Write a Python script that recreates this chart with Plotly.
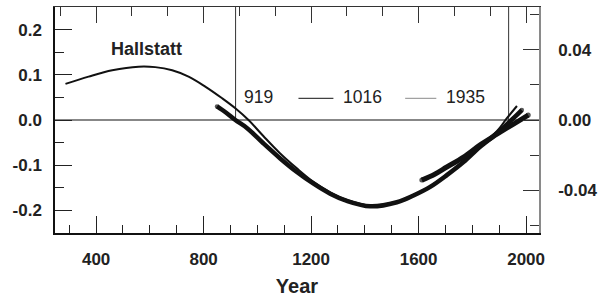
import plotly.graph_objects as go

# Hallstatt (thin) curve
hall_years = [286, 372, 460, 558, 620, 683, 744, 806, 869, 918, 967, 1023, 1085, 1147, 1209,
              1271, 1333, 1420, 1519, 1581, 1643, 1705, 1767, 1829, 1891, 1930, 1966]
hall_vals = [0.080, 0.096, 0.110, 0.118, 0.117, 0.110, 0.096, 0.074, 0.048, 0.026, 0.000, -0.036,
             -0.074, -0.107, -0.137, -0.160, -0.177, -0.189, -0.181, -0.166, -0.147, -0.121,
             -0.092, -0.058, -0.025, 0.005, 0.031]

# Thick main curve
main_years = [850, 884, 918, 962, 1023, 1085, 1147, 1209, 1271, 1333, 1420, 1519, 1581, 1643,
              1705, 1767, 1829, 1891, 1953, 1984]
main_vals = [0.030, 0.016, 0.000, -0.018, -0.052, -0.085, -0.115, -0.141, -0.163, -0.179, -0.191,
             -0.182, -0.167, -0.148, -0.122, -0.093, -0.059, -0.030, 0.004, 0.022]

# Thick short segment
seg_years = [1612, 1660, 1705, 1767, 1829, 1890, 1950, 2008]
seg_vals = [-0.133, -0.120, -0.104, -0.082, -0.055, -0.032, -0.010, 0.011]

vline_years = [919, 1935]

x_major = [400, 800, 1200, 1600, 2000]
y_left_vals = [-0.2, -0.1, 0.0, 0.1, 0.2]
y_left_text = ["-0.2", "-0.1", "0.0", "0.1", "0.2"]
y_right_vals = [-0.04, 0.0, 0.04]
y_right_text = ["-0.04", "0.00", "0.04"]

FONT = "Liberation Sans, Arial, sans-serif"
TXT = "#222222"
BOLD = dict(family=FONT, size=17, color=TXT, weight="bold")

fig = go.Figure()
fig.add_trace(go.Scatter(x=hall_years, y=hall_vals, mode="lines",
                         line=dict(color="#111111", width=2, shape="spline", smoothing=1.0),
                         showlegend=False, hoverinfo="skip"))
fig.add_trace(go.Scatter(x=main_years, y=main_vals, mode="lines",
                         line=dict(color="#111111", width=4.5, shape="spline", smoothing=1.0),
                         showlegend=False, hoverinfo="skip"))
fig.add_trace(go.Scatter(x=seg_years, y=seg_vals, mode="lines",
                         line=dict(color="#111111", width=5, shape="spline", smoothing=1.0),
                         showlegend=False, hoverinfo="skip"))
# round caps
fig.add_trace(go.Scatter(x=[seg_years[0], seg_years[-1], main_years[0], main_years[-1]],
                         y=[seg_vals[0], seg_vals[-1], main_vals[0], main_vals[-1]],
                         mode="markers", marker=dict(color="#111111", size=[5, 5, 4.5, 4.5], line=dict(width=0)),
                         showlegend=False, hoverinfo="skip"))
# dummy traces for secondary axes
fig.add_trace(go.Scatter(x=[1000], y=[0], yaxis="y2", mode="markers",
                         marker=dict(opacity=0), showlegend=False, hoverinfo="skip"))
fig.add_trace(go.Scatter(x=[1000], y=[0], xaxis="x2", mode="markers",
                         marker=dict(opacity=0), showlegend=False, hoverinfo="skip"))

shapes = [dict(type="line", xref="paper", yref="y", x0=0, x1=1, y0=0, y1=0,
               line=dict(color="#111111", width=1.2), layer="below")]
for v in vline_years:
    shapes.append(dict(type="line", xref="x", yref="y", x0=v, x1=v, y0=0, y1=0.25,
                       line=dict(color="#333333", width=1), layer="below"))
# legend line samples
shapes.append(dict(type="line", xref="x", yref="y", x0=1153, x1=1283, y0=0.048, y1=0.048,
                   line=dict(color="#111111", width=1)))
shapes.append(dict(type="line", xref="x", yref="y", x0=1550, x1=1666, y0=0.048, y1=0.048,
                   line=dict(color="#8a8a8a", width=1)))

annotations = [
    dict(x=587, y=0.156, xref="x", yref="y", text="<b>Hallstatt</b>", showarrow=False,
         font=dict(family=FONT, size=18, color=TXT)),
    dict(x=944, y=0.050, xref="x", yref="y", text="919", showarrow=False, xanchor="left",
         font=dict(family=FONT, size=17.5, color=TXT)),
    dict(x=1312, y=0.050, xref="x", yref="y", text="1016", showarrow=False, xanchor="left",
         font=dict(family=FONT, size=17.5, color=TXT)),
    dict(x=1693, y=0.050, xref="x", yref="y", text="1935", showarrow=False, xanchor="left",
         font=dict(family=FONT, size=17.5, color=TXT)),
]

xr = [247, 2048]
fig.update_layout(
    width=612, height=300,
    margin=dict(l=55, r=73, t=7, b=67),
    paper_bgcolor="white", plot_bgcolor="white",
    font=dict(family=FONT, color=TXT),
    shapes=shapes, annotations=annotations,
    xaxis=dict(range=xr, tickvals=x_major, ticktext=[str(v) for v in x_major], automargin=False,
               ticks="inside", ticklen=17, tickwidth=1.2, tickcolor="#222",
               minor=dict(dtick=100, tick0=0, ticks="inside", ticklen=8, tickwidth=1, tickcolor="#222"),
               showline=True, linecolor="#111", linewidth=1.5, showgrid=False, zeroline=False,
               tickfont=BOLD, ticklabelstandoff=10,
               title=dict(text="Year", font=dict(family=FONT, size=20, color=TXT, weight="bold"), standoff=11)),
    xaxis2=dict(range=xr, overlaying="x", side="top", tickvals=x_major, showticklabels=False,
                automargin=False,
                ticks="inside", ticklen=16, tickwidth=1, tickcolor="#333",
                minor=dict(dtick=400/3, tick0=0, ticks="inside", ticklen=9, tickwidth=1, tickcolor="#333"),
                showline=True, linecolor="#333", linewidth=1.2, showgrid=False, zeroline=False),
    yaxis=dict(range=[-0.25, 0.25], tickvals=y_left_vals, ticktext=y_left_text, automargin=False,
               ticks="inside", ticklen=17, tickwidth=1.2, tickcolor="#222",
               minor=dict(dtick=0.05, tick0=0, ticks="inside", ticklen=9, tickwidth=1, tickcolor="#222"),
               showline=True, linecolor="#111", linewidth=1.5, showgrid=False, zeroline=False,
               tickfont=BOLD, ticklabelstandoff=8),
    yaxis2=dict(range=[-0.0645, 0.0645], overlaying="y", side="right", automargin=False,
                tickvals=y_right_vals, ticktext=y_right_text,
                ticks="inside", ticklen=16, tickwidth=1.2, tickcolor="#333",
                minor=dict(dtick=0.02, tick0=0, ticks="inside", ticklen=9, tickwidth=1, tickcolor="#333"),
                showline=True, linecolor="#8a8a8a", linewidth=1.5, showgrid=False, zeroline=False,
                tickfont=BOLD, ticklabelstandoff=14),
)

fig.write_html("out.html", config={"displayModeBar": False},
               post_script="document.body.style.margin='0';")
